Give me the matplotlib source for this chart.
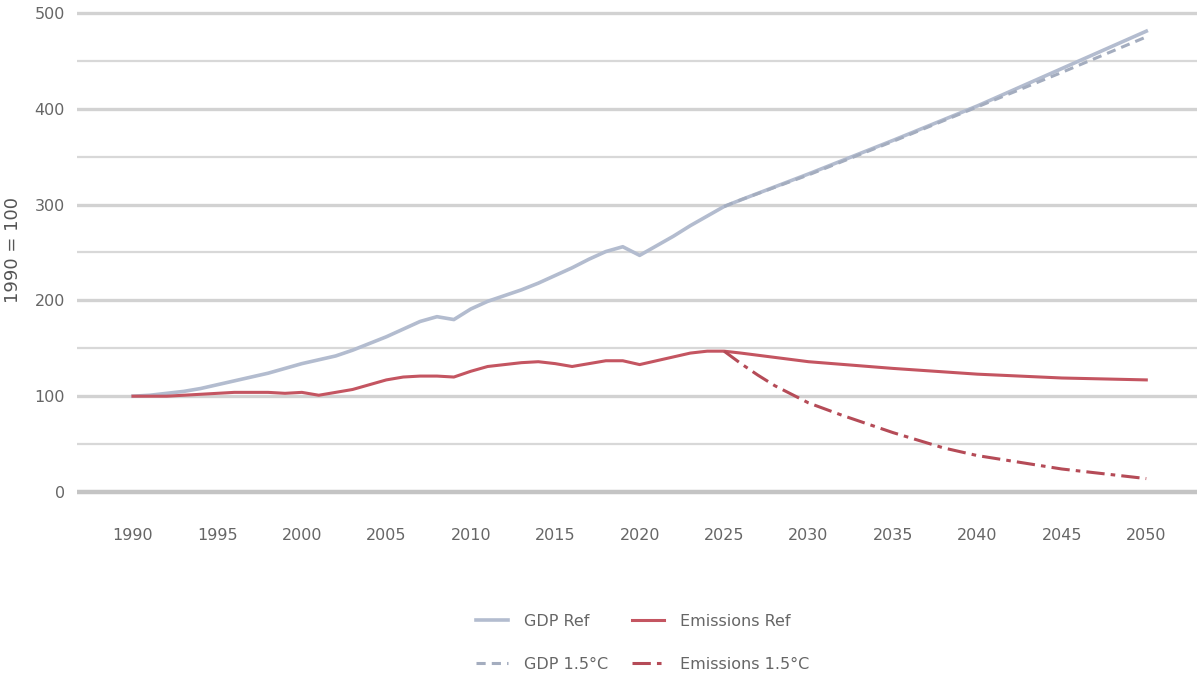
import matplotlib
matplotlib.use("Agg")
import matplotlib.pyplot as plt

# values (index 1990 = 100)
hist_years = list(range(1990, 2026))
gdp_hist = [100, 101, 103, 105, 108, 112, 116, 120, 124, 129,
            134, 138, 142, 148, 155, 162, 170, 178, 183, 180,
            191, 199, 205, 211, 218, 226, 234, 243, 251, 256,
            247, 257, 267, 278, 288, 298]
em_hist = [100, 100, 100, 101, 102, 103, 104, 104, 104, 103,
           104, 101, 104, 107, 112, 117, 120, 121, 121, 120,
           126, 131, 133, 135, 136, 134, 131, 134, 137, 137,
           133, 137, 141, 145, 147, 147]

fut_years = [2025, 2026, 2030, 2035, 2040, 2045, 2050]
gdp_ref_fut = [298, 305, 332, 367, 403, 442, 481]
gdp_15_fut = [298, 305, 331, 366, 402, 438, 475]
em_ref_fut = [147, 145, 136, 129, 123, 119, 117]

em15_years = [2025, 2026, 2027, 2028, 2030, 2032, 2035, 2038, 2040, 2045, 2050]
em_15 = [147, 134, 122, 111, 93, 80, 62, 46, 38, 24, 14]

gdp_ref = gdp_hist + gdp_ref_fut[1:]
em_ref = em_hist + em_ref_fut[1:]
ref_years = hist_years + fut_years[1:]

c_gdp = "#b3bccf"
c_gdp15 = "#a4adbf"
c_em = "#c45561"
c_em15 = "#b54b57"
c_text = "#666666"

fig = plt.figure(figsize=(12.02, 6.81), dpi=100)
ax = fig.add_axes([0.064, 0.2705, 0.9318, 0.7245])

# gridlines: thicker on the hundreds, heaviest on zero
for v in range(0, 501, 50):
    if v == 0:
        ax.axhline(v, color="#c4c4c4", lw=3.2, zorder=0)
    elif v % 100 == 0:
        ax.axhline(v, color="#d2d2d2", lw=2.4, zorder=0)
    else:
        ax.axhline(v, color="#d8d8d8", lw=1.6, zorder=0)

l1, = ax.plot(ref_years, gdp_ref, color=c_gdp, lw=2.6, label="GDP Ref", zorder=3)
l2, = ax.plot(fut_years, gdp_15_fut, color=c_gdp15, lw=2.2, ls=(0, (3, 2)),
              label="GDP 1.5°C", zorder=4)
l3, = ax.plot(ref_years, em_ref, color=c_em, lw=2.2, label="Emissions Ref", zorder=3)
l4, = ax.plot(em15_years, em_15, color=c_em15, lw=2.2, ls=(0, (6, 2, 1.5, 2)),
              label="Emissions 1.5°C", zorder=4)

ax.set_xlim(1986.68, 2053.0)
ax.set_ylim(-5, 510)
ax.set_xticks(range(1990, 2051, 5))
ax.set_yticks(range(0, 501, 100))
for s in ax.spines.values():
    s.set_visible(False)
ax.tick_params(axis="x", length=0, pad=22.5, labelsize=11.5, labelcolor=c_text)
ax.tick_params(axis="y", length=0, pad=8.5, labelsize=11.5, labelcolor=c_text)
ax.set_ylabel("1990 = 100", fontsize=13, color="#555555", labelpad=4)
ax.yaxis.set_label_coords(-0.049, 0.5)

fig.legend(handles=[l1, l2, l3, l4], loc="center", bbox_to_anchor=(0.535, 0.056),
           ncol=2, frameon=False, fontsize=11.5, labelcolor=c_text,
           handlelength=2.0, handletextpad=1.0, columnspacing=1.5, labelspacing=1.75)

fig.savefig("out.png", dpi=100)
